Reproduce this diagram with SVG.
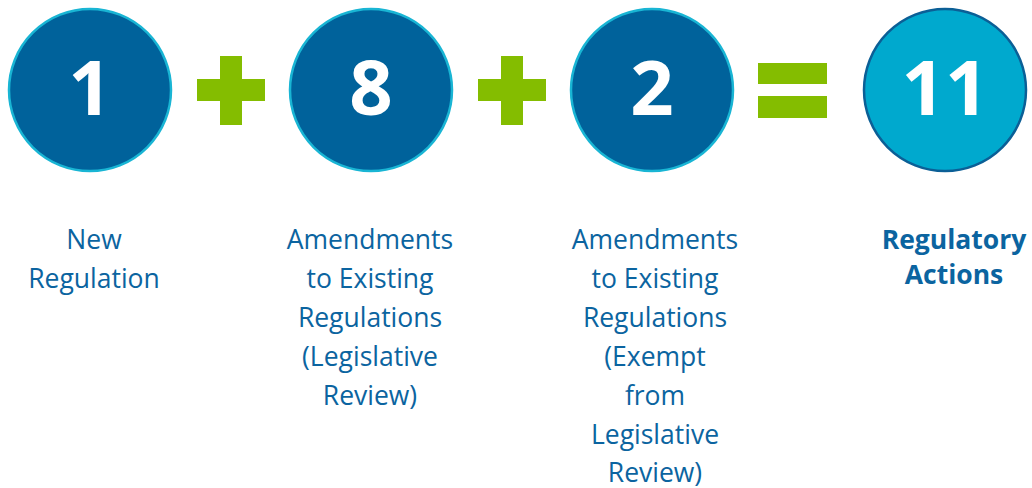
<svg xmlns="http://www.w3.org/2000/svg" width="1032" height="488" viewBox="0 0 1032 488">
<style>
.c{fill:#00629b;stroke:#19b5d4;stroke-width:2.5}
.t{fill:#00a9ce;stroke:#0b5f96;stroke-width:2.5}
.n{font-family:"Open Sans","Liberation Sans",sans-serif;font-weight:bold;font-size:76px;fill:#ffffff;text-anchor:middle}
.l{font-family:"Open Sans","Liberation Sans",sans-serif;font-size:26.5px;fill:#0b64a0;text-anchor:middle}
.b{font-weight:bold}
.g{fill:#84bd00}
</style>
<rect width="1032" height="488" fill="#ffffff"/>
<g id="node1">
<circle class="c" cx="90" cy="90" r="81"/>
<text class="n" x="90" y="115">1</text>
<text class="l" x="94"><tspan x="94" y="249">New</tspan><tspan x="94" y="288">Regulation</tspan></text>
</g>
<g id="plus1">
<rect class="g" x="220" y="56" width="22" height="69"/>
<rect class="g" x="197" y="79" width="68" height="22"/>
</g>
<g id="node2">
<circle class="c" cx="371" cy="90" r="81"/>
<text class="n" x="371" y="115">8</text>
<text class="l"><tspan x="370" y="249">Amendments</tspan><tspan x="370" y="288">to Existing</tspan><tspan x="370" y="327">Regulations</tspan><tspan x="370" y="366">(Legislative</tspan><tspan x="370" y="405">Review)</tspan></text>
</g>
<g id="plus2">
<rect class="g" x="501" y="56" width="22" height="69"/>
<rect class="g" x="478" y="79" width="68" height="22"/>
</g>
<g id="node3">
<circle class="c" cx="652" cy="90" r="81"/>
<text class="n" x="652" y="115">2</text>
<text class="l"><tspan x="655" y="249">Amendments</tspan><tspan x="655" y="288">to Existing</tspan><tspan x="655" y="327">Regulations</tspan><tspan x="655" y="366">(Exempt</tspan><tspan x="655" y="405">from</tspan><tspan x="655" y="444">Legislative</tspan><tspan x="655" y="482">Review)</tspan></text>
</g>
<g id="equals">
<rect class="g" x="758" y="63" width="69" height="21"/>
<rect class="g" x="758" y="96" width="69" height="22"/>
</g>
<g id="node4">
<circle class="t" cx="945" cy="90" r="81"/>
<text class="n" x="945" y="115">11</text>
<text class="l b"><tspan x="954" y="249">Regulatory</tspan><tspan x="954" y="284">Actions</tspan></text>
</g>
<g id="connectors"></g>
</svg>
